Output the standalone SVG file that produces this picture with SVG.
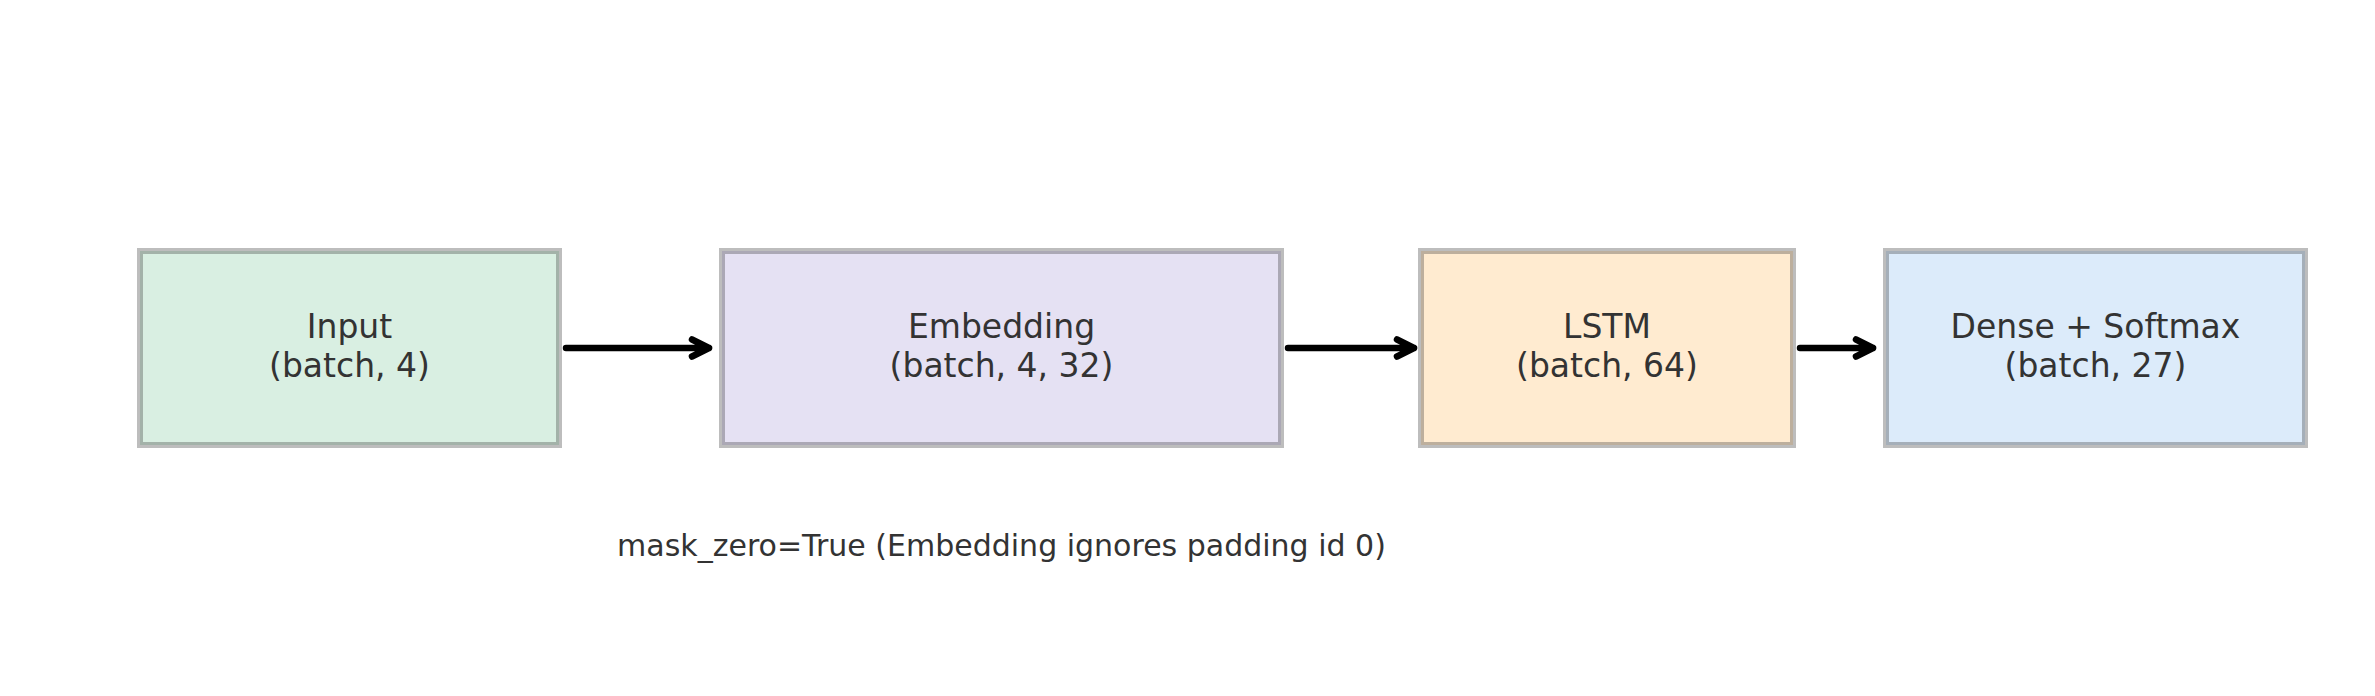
<svg xmlns="http://www.w3.org/2000/svg" width="2375" height="696" viewBox="0 0 2375 696">
  <defs>
    <style>
      .box { stroke: #333333; stroke-opacity: 0.32; stroke-width: 6; }
      .lbl { font-family: "DejaVu Sans", "Liberation Sans", sans-serif; font-size: 33px; fill: #333333; text-anchor: middle; }
      .cap { font-family: "DejaVu Sans", "Liberation Sans", sans-serif; font-size: 30px; fill: #333333; text-anchor: middle; }
      .conn { stroke: #000000; stroke-width: 6.5; fill: none; stroke-linecap: round; stroke-linejoin: round; }
    </style>
  </defs>
  <rect width="2375" height="696" fill="#ffffff"/>
  <g id="node-input">
    <rect class="box" x="140" y="251" width="419" height="194" fill="#d9efe2"/>
    <text class="lbl" x="349.5" y="338">Input</text>
    <text class="lbl" x="349.5" y="377">(batch, 4)</text>
  </g>
  <g id="node-embedding">
    <rect class="box" x="722" y="251" width="559" height="194" fill="#e5e1f3"/>
    <text class="lbl" x="1001.5" y="338">Embedding</text>
    <text class="lbl" x="1001.5" y="377">(batch, 4, 32)</text>
  </g>
  <g id="node-lstm">
    <rect class="box" x="1421" y="251" width="372" height="194" fill="#ffebd0"/>
    <text class="lbl" x="1607" y="338">LSTM</text>
    <text class="lbl" x="1607" y="377">(batch, 64)</text>
  </g>
  <g id="node-dense">
    <rect class="box" x="1886" y="251" width="419" height="194" fill="#dcebfa"/>
    <text class="lbl" x="2095.5" y="338">Dense + Softmax</text>
    <text class="lbl" x="2095.5" y="377">(batch, 27)</text>
  </g>
  <g id="connectors">
    <path class="conn" d="M 566 348 L 709 348 M 709 348 L 692 339.5 M 709 348 L 692 356.5"/>
    <path class="conn" d="M 1288 348 L 1414 348 M 1414 348 L 1397 339.5 M 1414 348 L 1397 356.5"/>
    <path class="conn" d="M 1800 348 L 1873 348 M 1873 348 L 1856 339.5 M 1873 348 L 1856 356.5"/>
  </g>
  <g id="note">
    <text class="cap" x="1001.5" y="556">mask_zero=True (Embedding ignores padding id 0)</text>
  </g>
</svg>
